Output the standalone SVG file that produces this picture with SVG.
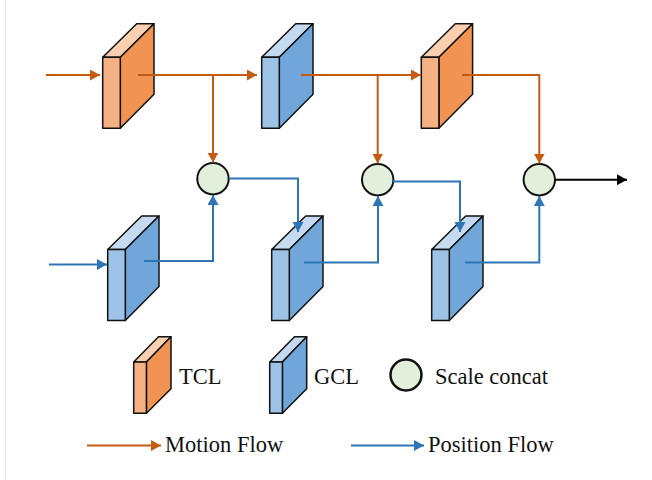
<svg xmlns="http://www.w3.org/2000/svg" width="652" height="480" viewBox="0 0 652 480">
<style>
.e{stroke:#111;stroke-width:1.5;stroke-linejoin:round}
.of{fill:#f4b183}.om{fill:#f19353}.ot{fill:#fbd0b1}
.bf{fill:#9dc3e6}.bm{fill:#70a6da}.bt{fill:#c5daf0}
.c{fill:#e2efda;stroke:#111;stroke-width:2}
.o{fill:none;stroke:#c55a11;stroke-width:2}
.b{fill:none;stroke:#2e75b6;stroke-width:2}
.k{fill:none;stroke:#000;stroke-width:2}
text{font-family:"Liberation Serif","Times New Roman",serif;font-size:22.5px;fill:#111}
</style>
<defs>
<marker id="ao" markerUnits="userSpaceOnUse" markerWidth="10" markerHeight="11" refX="10" refY="5.5" orient="auto"><path d="M0 0L10 5.500L0 11z" fill="#c55a11"/></marker>
<marker id="ab" markerUnits="userSpaceOnUse" markerWidth="10" markerHeight="11" refX="10" refY="5.500" orient="auto"><path d="M0 0L10 5.500L0 11z" fill="#2e75b6"/></marker>
<marker id="ak" markerUnits="userSpaceOnUse" markerWidth="10" markerHeight="11" refX="10" refY="5.500" orient="auto"><path d="M0 0L10 5.500L0 11z" fill="#000"/></marker>
<g id="bo"><path class="e ot" d="M0 33.500L34 0H51.300L17.600 33.500z"/><path class="e om" d="M17.600 33.500L51.300 0V70.500L17.600 104.500z"/><rect class="e of" y="33.500" width="17.600" height="71"/></g>
<g id="bb"><path class="e bt" d="M0 33.500L34 0H51.300L17.600 33.500z"/><path class="e bm" d="M17.600 33.500L51.300 0V70.500L17.600 104.500z"/><rect class="e bf" y="33.500" width="17.600" height="71"/></g>
</defs>
<rect width="652" height="480" fill="#fff"/>
<path d="M5.500 0V480" stroke="#e6e6e6" stroke-width="1" fill="none"/>
<g id="tcl1"><use href="#bo" x="102.700" y="23.700"/></g>
<g id="gcl1"><use href="#bb" x="261.700" y="23.700"/></g>
<g id="tcl2"><use href="#bo" x="421.300" y="23.700"/></g>
<g id="gcl2"><use href="#bb" x="107.700" y="216"/></g>
<g id="gcl3"><use href="#bb" x="271.700" y="216"/></g>
<g id="gcl4"><use href="#bb" x="431.700" y="216"/></g>
<g id="concat1"><circle class="c" cx="213" cy="178.700" r="15.700"/></g>
<g id="concat2"><circle class="c" cx="377.700" cy="179.700" r="15.700"/></g>
<g id="concat3"><circle class="c" cx="539.300" cy="179.700" r="15.700"/></g>
<g id="connectors">
<path class="o" marker-end="url(#ao)" d="M46 75H100"/>
<path class="o" marker-end="url(#ao)" d="M138 75H257"/>
<path class="o" marker-end="url(#ao)" d="M213 75V162.500"/>
<path class="o" marker-end="url(#ao)" d="M301 75H421"/>
<path class="o" marker-end="url(#ao)" d="M377.700 75V163.500"/>
<path class="o" marker-end="url(#ao)" d="M462 75H539.300V163.500"/>
<path class="k" marker-end="url(#ak)" d="M555 179.700H627"/>
<path class="b" marker-end="url(#ab)" d="M49 264.500H107"/>
<path class="b" marker-end="url(#ab)" d="M144 261H213V195"/>
<path class="b" marker-end="url(#ab)" d="M229 178.500H298V232"/>
<path class="b" marker-end="url(#ab)" d="M304 262.500H378V196"/>
<path class="b" marker-end="url(#ab)" d="M393 181.500H460V232"/>
<path class="b" marker-end="url(#ab)" d="M465 262.500H539.300V196"/>
</g>
<g id="legend-tcl"><path class="e ot" d="M133.700 362L158.500 336.700H171L146.400 362z"/><path class="e om" d="M146.400 362L171 336.700V388.700L146.400 413.300z"/><rect class="e of" x="133.700" y="362" width="12.700" height="51.300"/><text x="179" y="384">TCL</text></g>
<g id="legend-gcl"><path class="e bt" d="M269.700 362L294.500 336.700H306.700L282.400 362z"/><path class="e bm" d="M282.400 362L306.700 336.700V388.700L282.400 413.300z"/><rect class="e bf" x="269.700" y="362" width="12.700" height="51.300"/><text x="314" y="384">GCL</text></g>
<g id="legend-concat"><circle class="c" style="stroke-width:2.500" cx="406" cy="375" r="15.500"/><text x="435" y="384">Scale concat</text></g>
<g id="legend-motion"><path class="o" marker-end="url(#ao)" d="M87 445.500H161"/><text x="165" y="452">Motion Flow</text></g>
<g id="legend-position"><path class="b" marker-end="url(#ab)" d="M351 445.500H424"/><text x="428" y="452">Position Flow</text></g>
</svg>
